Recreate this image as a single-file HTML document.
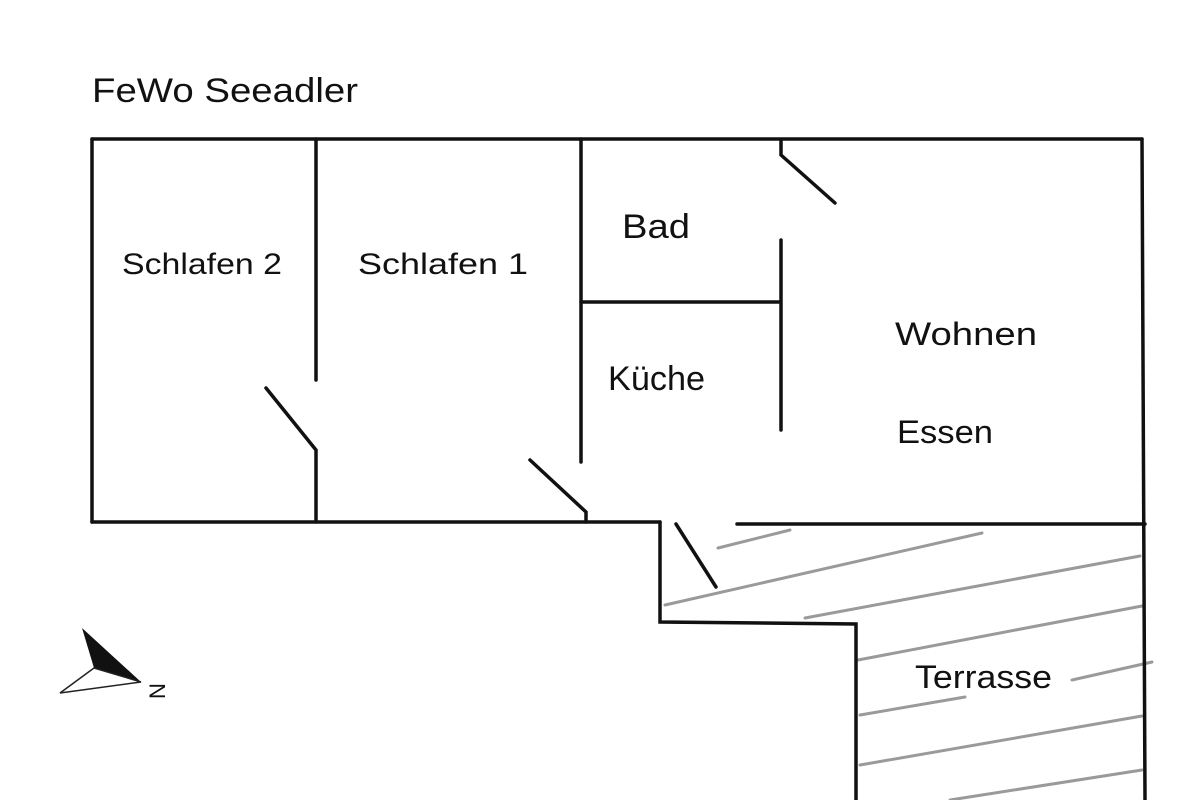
<!DOCTYPE html>
<html><head><meta charset="utf-8"><style>
html,body{margin:0;padding:0;background:#fff;}
svg{display:block}
text{font-family:"Liberation Sans",sans-serif;fill:#111;}
</style></head><body>
<svg width="1200" height="800" viewBox="0 0 1200 800" xmlns="http://www.w3.org/2000/svg">
<rect width="1200" height="800" fill="#fff"/>
<g stroke="#9a9a9a" stroke-width="3" stroke-linecap="round">
<line x1="718" y1="548" x2="790" y2="530"/>
<line x1="665" y1="605" x2="982" y2="533"/>
<line x1="805" y1="618" x2="1140" y2="556"/>
<line x1="858" y1="660" x2="1142" y2="606"/>
<line x1="860" y1="715" x2="965" y2="697"/>
<line x1="1072" y1="680" x2="1152" y2="662"/>
<line x1="860" y1="765" x2="1142" y2="716"/>
<line x1="950" y1="800" x2="1142" y2="770"/>
</g>
<g stroke="#111" stroke-width="3.5" stroke-linecap="round" fill="none">
<line x1="92" y1="139" x2="1142" y2="139"/>
<line x1="92" y1="139" x2="92" y2="522"/>
<line x1="92" y1="522" x2="660" y2="522"/>
<line x1="737" y1="524" x2="1145" y2="524"/>
<line x1="1142" y1="139" x2="1145" y2="800"/>
<line x1="316" y1="139" x2="316" y2="380"/>
<polyline points="266,388 316,450 316,522"/>
<line x1="581" y1="139" x2="581" y2="462"/>
<polyline points="530,460 586,512 586,522"/>
<line x1="581" y1="302" x2="780" y2="302"/>
<line x1="781" y1="240" x2="781" y2="430"/>
<polyline points="781,140 781,155 835,203"/>
<polyline points="660,522 660,622 856,624 856,800"/>
<line x1="676" y1="524" x2="716" y2="587"/>
</g>
<polygon points="82,628 94,668 141,682" fill="#111"/>
<polygon points="94,668 60,693 141,682" fill="none" stroke="#222" stroke-width="1.5"/>
<text x="148" y="698" font-size="22" transform="rotate(-90 157 690)">N</text>
<text x="92" y="102" font-size="34" textLength="266" lengthAdjust="spacingAndGlyphs">FeWo Seeadler</text>
<text x="122" y="274" font-size="30" textLength="160" lengthAdjust="spacingAndGlyphs">Schlafen 2</text>
<text x="358" y="274" font-size="30" textLength="170" lengthAdjust="spacingAndGlyphs">Schlafen 1</text>
<text x="622" y="238" font-size="34" textLength="68" lengthAdjust="spacingAndGlyphs">Bad</text>
<text x="608" y="390" font-size="34" textLength="97" lengthAdjust="spacingAndGlyphs">Küche</text>
<text x="895" y="345" font-size="32" textLength="142" lengthAdjust="spacingAndGlyphs">Wohnen</text>
<text x="897" y="443" font-size="32" textLength="96" lengthAdjust="spacingAndGlyphs">Essen</text>
<text x="915" y="688" font-size="32" textLength="137" lengthAdjust="spacingAndGlyphs">Terrasse</text>
</svg>
</body></html>
